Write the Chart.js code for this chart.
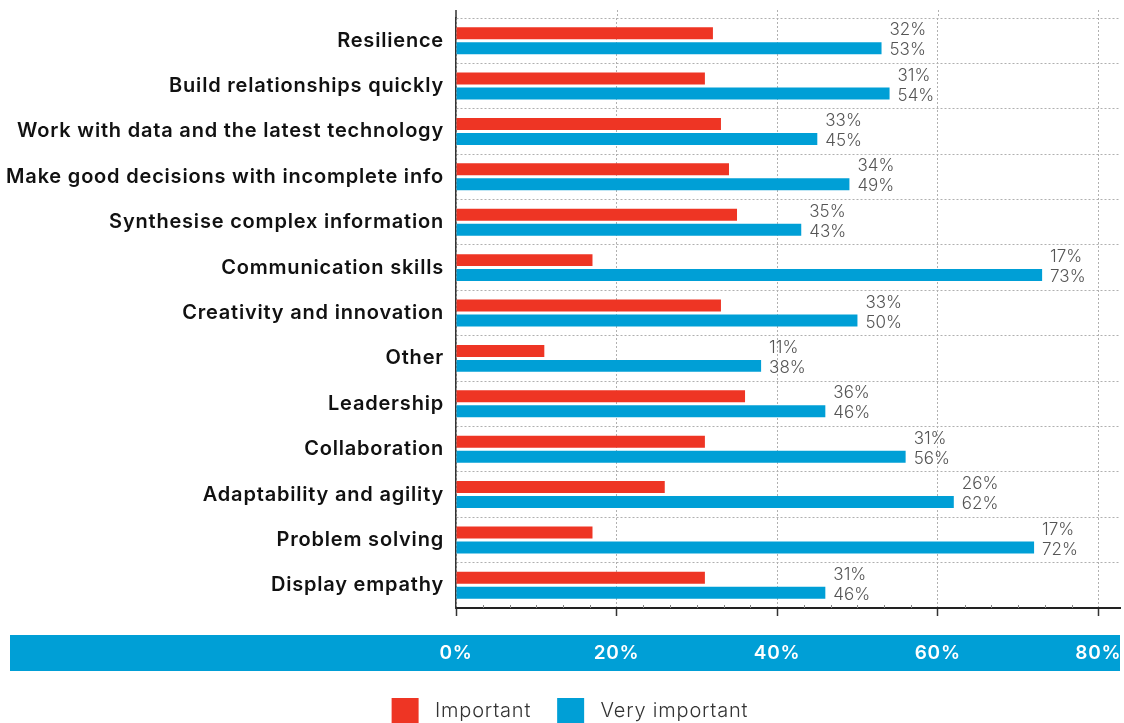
<!DOCTYPE html>
<html>
<head>
<meta charset="utf-8">
<script src="https://cdn.jsdelivr.net/npm/chart.js@4.4.0/dist/chart.umd.min.js"></script>
<style>
  html, body { margin: 0; padding: 0; background: #fff; overflow: hidden; }
  #wrap { width: 1124px; height: 723px; overflow: hidden; }
</style>
</head>
<body>
<div id="wrap"><canvas id="skillsChart" width="1124" height="734"></canvas></div>
<script>
// Data
const categories = [
  'Resilience',
  'Build relationships quickly',
  'Work with data and the latest technology',
  'Make good decisions with incomplete info',
  'Synthesise complex information',
  'Communication skills',
  'Creativity and innovation',
  'Other',
  'Leadership',
  'Collaboration',
  'Adaptability and agility',
  'Problem solving',
  'Display empathy'
];
const importantValues = [32, 31, 33, 34, 35, 17, 33, 11, 36, 31, 26, 17, 31];
const veryImportantValues = [53, 54, 45, 49, 43, 73, 50, 38, 46, 56, 62, 72, 46];
const tickValues = [0, 20, 40, 60, 80];

// Colours
const redColor = '#ee3524';
const blueColor = '#009fd6';
const gridColor = '#b0b0b0';
const axisColor = '#333333';
const fontFamily = "'Inter', 'Open Sans', sans-serif";

// Blue band behind the x axis labels (also widens the axis lettering a bit)
const axisBand = {
  id: 'axisBand',
  beforeDraw(chart) {
    const ctx = chart.ctx;
    const x = chart.scales.x;
    ctx.save();
    ctx.fillStyle = blueColor;
    ctx.fillRect(10, x.top + 27, chart.width - 14, 36);
    ctx.restore();
    ctx.letterSpacing = '0.8px';
  },
  beforeDatasetsDraw(chart) {
    chart.ctx.letterSpacing = '0px';
  }
};

// Axis and grid lines poke a little above the plot, plus minor ticks
const topExtension = {
  id: 'topExtension',
  beforeDatasetsDraw(chart) {
    const ctx = chart.ctx;
    const area = chart.chartArea;
    const x = chart.scales.x;
    ctx.save();
    ctx.strokeStyle = gridColor;
    ctx.lineWidth = 1;
    ctx.setLineDash([2, 2]);
    x.ticks.forEach(t => {
      if (t.value === 0) return;
      const px = Math.round(x.getPixelForValue(t.value)) + 0.5;
      ctx.beginPath();
      ctx.moveTo(px, area.top - 8);
      ctx.lineTo(px, area.top);
      ctx.stroke();
    });
    ctx.setLineDash([]);
    ctx.strokeStyle = axisColor;
    ctx.lineWidth = 1.5;
    const x0 = x.getPixelForValue(0);
    ctx.beginPath();
    ctx.moveTo(x0, area.top - 8);
    ctx.lineTo(x0, area.top);
    ctx.stroke();
    // small minor ticks on the bottom axis
    ctx.lineWidth = 1;
    ctx.strokeStyle = '#888';
    for (let i = 0; i < tickValues.length - 1; i++) {
      const step = (tickValues[i + 1] - tickValues[i]) / 6;
      for (let k = 1; k < 6; k++) {
        const px = Math.round(x.getPixelForValue(tickValues[i] + k * step)) + 0.5;
        ctx.beginPath();
        ctx.moveTo(px, area.bottom - 3);
        ctx.lineTo(px, area.bottom);
        ctx.stroke();
      }
    }
    ctx.restore();
  }
};

// Value labels next to the longer bar
const valueLabels = {
  id: 'valueLabels',
  afterDatasetsDraw(chart) {
    const ctx = chart.ctx;
    const m0 = chart.getDatasetMeta(0);
    const m1 = chart.getDatasetMeta(1);
    ctx.save();
    ctx.font = '300 17px ' + fontFamily;
    ctx.fillStyle = '#555555';
    ctx.textAlign = 'left';
    ctx.textBaseline = 'middle';
    categories.forEach((c, i) => {
      const x = Math.max(m0.data[i].x, m1.data[i].x) + 8;
      ctx.fillText(importantValues[i] + '%', x, m0.data[i].y - 3);
      ctx.fillText(veryImportantValues[i] + '%', x, m1.data[i].y + 2);
    });
    ctx.restore();
  }
};

const ctx = document.getElementById('skillsChart').getContext('2d');
const skillsChart = new Chart(ctx, {
  type: 'bar',
  data: {
    labels: categories,
    datasets: [{
      label: ' Important',
      data: importantValues,
      backgroundColor: redColor,
      barPercentage: 0.8,
      categoryPercentage: 0.66
    }, {
      label: ' Very important',
      data: veryImportantValues,
      backgroundColor: blueColor,
      barPercentage: 0.8,
      categoryPercentage: 0.66
    }]
  },
  options: {
    indexAxis: 'y',
    responsive: false,
    animation: false,
    layout: {
      padding: { top: 18, right: 4, left: 0, bottom: 0 }
    },
    plugins: {
      tooltip: { enabled: false },
      legend: {
        position: 'bottom',
        labels: {
          boxWidth: 27,
          boxHeight: 26,
          padding: 26,
          color: '#333',
          font: { family: fontFamily, size: 20, weight: 300 }
        }
      }
    },
    scales: {
      x: {
        min: 0,
        max: 82.7,
        afterBuildTicks: (scale) => {
          scale.ticks = tickValues.map(v => ({ value: v }));
        },
        afterFit: (scale) => {
          scale.paddingLeft = 0;
          scale.paddingRight = 0;
          scale.height = 64;
        },
        grid: {
          color: gridColor,
          tickBorderDash: [],
          tickColor: axisColor,
          tickLength: 8,
          tickWidth: 1.5
        },
        border: { display: true, color: '#222', width: 2, dash: [2, 2] },
        ticks: {
          color: '#ffffff',
          padding: 26,
          callback: (v) => v + '%',
          font: { family: fontFamily, size: 19, weight: 600 }
        }
      },
      y: {
        afterFit: (scale) => {
          scale.width = 456;
          scale.paddingTop = 0;
          scale.paddingBottom = 0;
        },
        grid: {
          color: gridColor,
          drawTicks: false,
          offset: true
        },
        border: { display: true, color: axisColor, width: 1.5, dash: [2, 2] },
        ticks: {
          color: '#111',
          padding: 12,
          font: { family: fontFamily, size: 20, weight: 600 }
        }
      }
    }
  },
  plugins: [axisBand, topExtension, valueLabels]
});
</script>
</body>
</html>
